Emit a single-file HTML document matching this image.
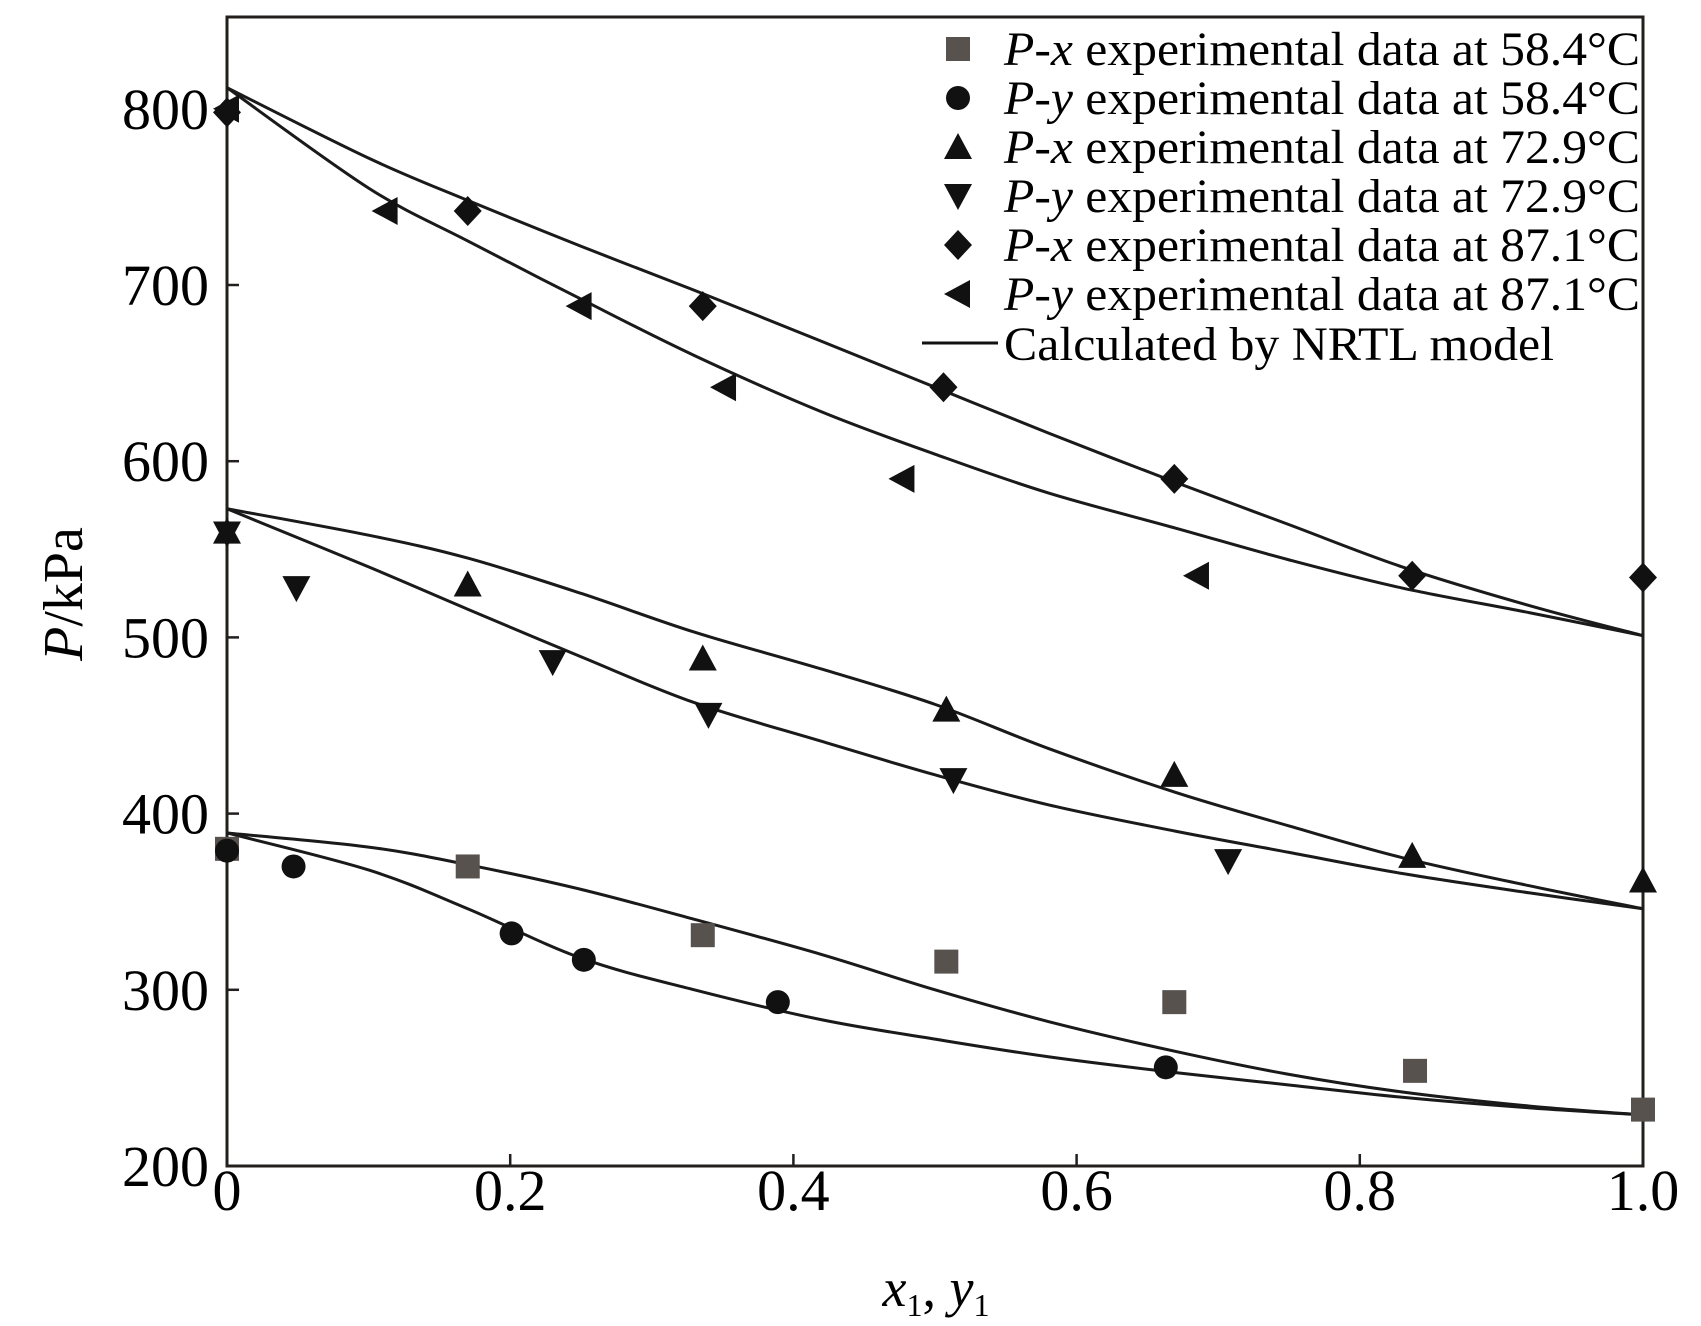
<!DOCTYPE html>
<html><head><meta charset="utf-8"><style>
html,body{margin:0;padding:0;background:#fff;}
svg{display:block;font-family:"Liberation Serif",serif;}
</style></head><body>
<svg id="chart" width="1701" height="1326" viewBox="0 0 1701 1326">
<rect x="227" y="17" width="1416" height="1149" fill="none" stroke="#231f1c" stroke-width="3"/>
<g id="ticks"></g><g id="curves"></g><g id="marks"></g><g id="legend"></g>
<text x="82" y="594" font-size="56" text-anchor="middle" transform="rotate(-90 82 594)"><tspan font-style="italic">P</tspan>/kPa</text>
<text x="936" y="1306" font-size="54" text-anchor="middle"><tspan font-style="italic">x</tspan><tspan font-size="32" dy="10">1</tspan><tspan dy="-10">, </tspan><tspan font-style="italic">y</tspan><tspan font-size="32" dy="10">1</tspan></text>
</svg>
<script>
const xTicks=[0,0.2,0.4,0.6,0.8,1.0];
const xTickLabels=["0","0.2","0.4","0.6","0.8","1.0"];
const yTicks=[200,300,400,500,600,700,800];
const curveX=[0,0.1,0.17,0.25,0.33,0.42,0.5,0.58,0.67,0.75,0.83,0.92,1];
const bub87=[812,772,748,722,697,668,642,616,588,564,540,518,501];
const dew87=[812,755,725,692,660,628,604,582,562,544,528,514,501];
const bub73=[573,558,545,525,503,482,462,437,412,393,375,359,346];
const dew73=[573,540,516,489,463,441,422,405,390,378,366,355,346];
const bub58=[389,381,371,357,340,320,300,282,265,252,242,234,229];
const dew58=[389,368,346,318,300,283,272,262,253,246,239,233,229];
const pxX58=[0,0.17,0.336,0.508,0.669,0.839,1.0], pxP58=[380,370,331,316,293,254,232];
const pyX58=[0,0.047,0.201,0.252,0.389,0.663], pyP58=[379,370,332,317,293,256];
const pxX73=[0,0.17,0.336,0.508,0.669,0.837,1.0], pxP73=[560,530,488,459,422,376,362];
const pyX73=[0,0.049,0.23,0.34,0.513,0.707], pyP73=[559,528,486,456,419,373];
const pxX87=[0,0.17,0.336,0.506,0.669,0.837,1.0], pxP87=[798,742,688,642,590,535,534];
const pyX87=[0,0.112,0.249,0.351,0.477,0.685], pyP87=[800,742,688,642,590,535];
const legendLabels=[["x","58.4"],["y","58.4"],["x","72.9"],["y","72.9"],["x","87.1"],["y","87.1"]];
const NS="http://www.w3.org/2000/svg";
const L=227,R=1643,B=1166;
function sx(v){return L+v*(R-L);}
function sy(p){return B-(p-200)*1.762;}
function mk(tag,a,parent){const e=document.createElementNS(NS,tag);for(const k in a)e.setAttribute(k,a[k]);parent.appendChild(e);return e;}
const gt=document.getElementById('ticks');
xTicks.forEach((v,i)=>{
 const t=mk('line',{x1:sx(v),x2:sx(v),y1:B,y2:B-12,stroke:'#231f1c','stroke-width':2.5},gt);
 
 
 const l=mk('text',{x:sx(v),y:1210,'font-size':58,'text-anchor':'middle'},gt);l.textContent=xTickLabels[i];
 
 
});
yTicks.forEach(v=>{
 const t=mk('line',{x1:L,x2:L+12,y1:sy(v),y2:sy(v),stroke:'#231f1c','stroke-width':2.5},gt);
 
 
 const l=mk('text',{x:209,y:sy(v)+20,'font-size':58,'text-anchor':'end'},gt);l.textContent=v;
 
 
});
function smooth(xs,ys){
 const p=xs.map((x,i)=>[sx(x),sy(ys[i])]);
 let d='M'+p[0][0]+','+p[0][1];
 for(let i=0;i<p.length-1;i++){
  const p0=p[Math.max(0,i-1)],p1=p[i],p2=p[i+1],p3=p[Math.min(p.length-1,i+2)];
  d+=' C'+(p1[0]+(p2[0]-p0[0])/6)+','+(p1[1]+(p2[1]-p0[1])/6)+' '+(p2[0]-(p3[0]-p1[0])/6)+','+(p2[1]-(p3[1]-p1[1])/6)+' '+p2[0]+','+p2[1];
 }
 return d;
}
const gc=document.getElementById('curves');
[[bub87,'bubble-curve-87'],[dew87,'dew-curve-87'],[bub73,'bubble-curve-73'],[dew73,'dew-curve-73'],[bub58,'bubble-curve-58'],[dew58,'dew-curve-58']].forEach(([ys,n])=>{
 const e=mk('path',{d:smooth(curveX,ys),fill:'none',stroke:'#1a1a1a','stroke-width':3},gc);
 
 
});
function marker(type,cx,cy,parent){
 const s=12;let e;
 if(type==='sq') e=mk('rect',{x:cx-s,y:cy-s,width:2*s,height:2*s,fill:'#58524f'},parent);
 else if(type==='ci') e=mk('circle',{cx:cx,cy:cy,r:s,fill:'#111'},parent);
 else if(type==='up') e=mk('polygon',{points:`${cx},${cy-s-2} ${cx+s+2},${cy+s} ${cx-s-2},${cy+s}`,fill:'#111'},parent);
 else if(type==='dn') e=mk('polygon',{points:`${cx-s-2},${cy-s} ${cx+s+2},${cy-s} ${cx},${cy+s+2}`,fill:'#111'},parent);
 else if(type==='di') e=mk('polygon',{points:`${cx},${cy-s-3} ${cx+s+2},${cy} ${cx},${cy+s+3} ${cx-s-2},${cy}`,fill:'#111'},parent);
 else e=mk('polygon',{points:`${cx+s},${cy-s-2} ${cx+s},${cy+s+2} ${cx-s-2},${cy}`,fill:'#111'},parent);
 return e;
}
const gm=document.getElementById('marks');
[['sq',pxX58,pxP58,'px-58-point'],['ci',pyX58,pyP58,'py-58-point'],['up',pxX73,pxP73,'px-73-point'],['dn',pyX73,pyP73,'py-73-point'],['di',pxX87,pxP87,'px-87-point'],['lt',pyX87,pyP87,'py-87-point']].forEach(([t,xs,ys,n])=>{
 xs.forEach((x,i)=>{const e=marker(t,sx(x),sy(ys[i]),gm);
  
  });
});
const gl=document.getElementById('legend');
const types=['sq','ci','up','dn','di','lt'];
legendLabels.forEach((lb,i)=>{
 const y=49+i*49;
 const m=marker(types[i],958,y,gl);
 
 
 const t=mk('text',{x:1004,y:y+16,'font-size':48,textLength:636,lengthAdjust:'spacingAndGlyphs'},gl);
 t.innerHTML=`<tspan font-style="italic">P</tspan>-<tspan font-style="italic">${lb[0]}</tspan> experimental data at ${lb[1]}°C`;
 
 
});
const ll=mk('line',{x1:922,x2:998,y1:343,y2:343,stroke:'#111','stroke-width':3},gl);


const lt=mk('text',{x:1004,y:360,'font-size':48,textLength:550,lengthAdjust:'spacingAndGlyphs'},gl);lt.textContent='Calculated by NRTL model';


</script>
</body></html>
